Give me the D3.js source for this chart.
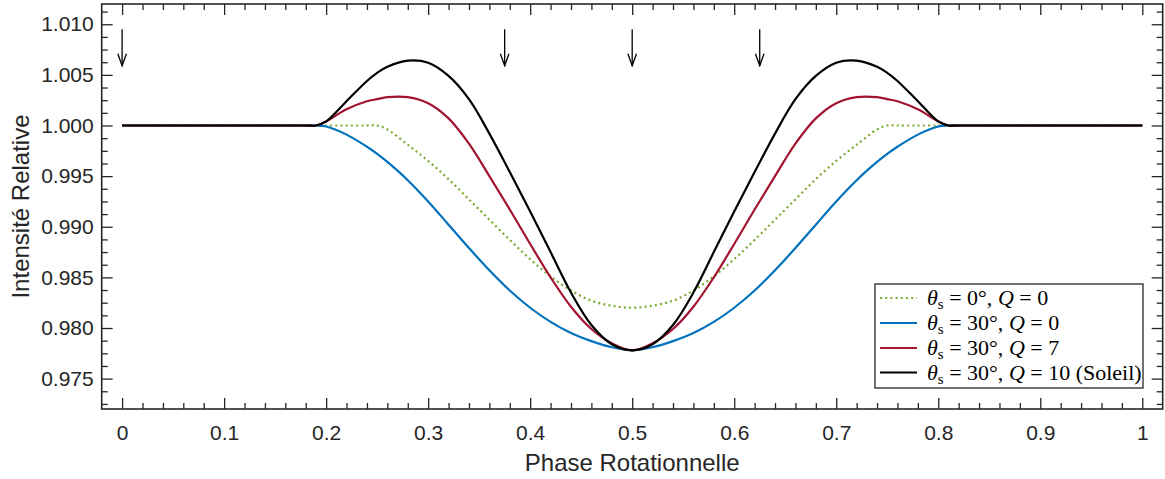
<!DOCTYPE html>
<html lang="fr">
<head>
<meta charset="UTF-8">
<title>Intensité relative vs phase rotationnelle</title>
<style>
  html, body { margin: 0; background: #fff; }
  svg { display: block; }
  .tick text { font-family: 'Liberation Sans', Arial, sans-serif; font-size: 21px; fill: #262626; }
  .tick line { stroke: #262626; stroke-width: 1.3px; }
  .title { font-family: 'Liberation Sans', Arial, sans-serif; font-size: 24px; fill: #262626; }
  .curve { fill: none; stroke-width: 2.2px; }
  .leg text { font-family: 'Liberation Serif', 'Times New Roman', serif; font-size: 22px; fill: #000; }
</style>
</head>
<body>
<svg width="1165" height="479"></svg>
<script src="https://cdn.jsdelivr.net/npm/d3@7"></script>
<script>
// ---- data ----
const phase = [0, 0.18, 0.19, 0.20, 0.22, 0.24, 0.25, 0.26, 0.28, 0.30, 0.32, 0.34, 0.36, 0.38, 0.40, 0.42, 0.44, 0.46, 0.48, 0.50,
               0.52, 0.54, 0.56, 0.58, 0.60, 0.62, 0.64, 0.66, 0.68, 0.70, 0.72, 0.74, 0.75, 0.76, 0.78, 0.80, 0.81, 0.82, 1];

const green = [1, 1, 1, 1, 1, 1, 1, 0.9996, 0.9981, 0.9965, 0.9947, 0.9927, 0.9907, 0.9887, 0.9868, 0.9851, 0.9837, 0.9827, 0.9822, 0.9820,
               0.9822, 0.9827, 0.9837, 0.9851, 0.9868, 0.9887, 0.9907, 0.9927, 0.9947, 0.9965, 0.9981, 0.9996, 1, 1, 1, 1, 1, 1, 1];

const blue = [1, 1, 1, 0.9999, 0.9991, 0.9979, 0.9972, 0.9964, 0.9946, 0.9925, 0.9902, 0.9879, 0.9857, 0.9837, 0.9820, 0.9806, 0.9795, 0.9787, 0.9781, 0.9778,
              0.9781, 0.9787, 0.9795, 0.9806, 0.9820, 0.9837, 0.9857, 0.9879, 0.9902, 0.9925, 0.9946, 0.9964, 0.9972, 0.9979, 0.9991, 0.9999, 1, 1, 1];

const red = [1, 1, 1, 1.0004, 1.0016, 1.0024, 1.0026, 1.0028, 1.0028, 1.0022, 1.0007, 0.9982, 0.9950, 0.9917, 0.9883, 0.9850, 0.9821, 0.9799, 0.9785, 0.9778,
             0.9785, 0.9799, 0.9821, 0.9850, 0.9883, 0.9917, 0.9950, 0.9982, 1.0007, 1.0022, 1.0028, 1.0028, 1.0026, 1.0024, 1.0016, 1.0004, 1, 1, 1];

const black = [1, 1, 1, 1.0004, 1.0024, 1.0044, 1.0052, 1.0058, 1.0064, 1.0062, 1.0049, 1.0026, 0.9992, 0.9954, 0.9915, 0.9875, 0.9835, 0.9803, 0.9784, 0.9778,
               0.9784, 0.9803, 0.9835, 0.9875, 0.9915, 0.9954, 0.9992, 1.0026, 1.0049, 1.0062, 1.0064, 1.0058, 1.0052, 1.0044, 1.0024, 1.0004, 1, 1, 1];

const seriesColors = ["#77AC30", "#0072BD", "#A2142F", "#000000"];
const legendTheta = ["0°", "30°", "30°", "30°"];
const legendQ = ["0", "0", "7", "10"];
const legendNote = ["", "", "", " (Soleil)"];

const arrowPhases = [0, 0.375, 0.5, 0.625];
const arrowTop = 1.0095, arrowTip = 1.0059;

const xTicks = [0, 0.1, 0.2, 0.3, 0.4, 0.5, 0.6, 0.7, 0.8, 0.9, 1];
const xTickLabels = ["0", "0.1", "0.2", "0.3", "0.4", "0.5", "0.6", "0.7", "0.8", "0.9", "1"];
const yTicks = [0.975, 0.980, 0.985, 0.990, 0.995, 1.000, 1.005, 1.010];
const yTickLabels = ["0.975", "0.980", "0.985", "0.990", "0.995", "1.000", "1.005", "1.010"];

// ---- layout ----
const svg = d3.select("svg"),
    margin = {top: 4, right: 2.3, bottom: 70, left: 101.7},
    width = +svg.attr("width") - margin.left - margin.right,
    height = +svg.attr("height") - margin.top - margin.bottom;

const x = d3.scaleLinear().domain([-0.02, 1.02]).range([0, width]);
const y = d3.scaleLinear().domain([0.972, 1.012]).range([height, 0]);

const g = svg.append("g").attr("transform", "translate(" + margin.left + "," + margin.top + ")");

const xMinor = d3.range(0, 1.0001, 0.02).filter(v => Math.abs(v * 10 - Math.round(v * 10)) > 1e-6);
const yMinor = d3.range(0.9725, 1.0115, 0.00125).filter(v => Math.abs(v * 200 - Math.round(v * 200)) > 1e-6);

function tickAxis(axis, vals, size, labels) {
  axis.tickValues(vals).tickSizeInner(size).tickSizeOuter(0);
  if (labels) axis.tickFormat((d, i) => labels[i]); else axis.tickFormat("");
  return axis;
}

// bottom + top
g.append("g").attr("transform", "translate(0," + height + ")")
  .call(tickAxis(d3.axisBottom(x), xTicks, -11, xTickLabels).tickPadding(16));
g.append("g").attr("transform", "translate(0," + height + ")")
  .call(tickAxis(d3.axisBottom(x), xMinor, -6));
g.append("g").call(tickAxis(d3.axisTop(x), xTicks, -11));
g.append("g").call(tickAxis(d3.axisTop(x), xMinor, -6));
// left + right
g.append("g").call(tickAxis(d3.axisLeft(y), yTicks, -11, yTickLabels).tickPadding(8));
g.append("g").call(tickAxis(d3.axisLeft(y), yMinor, -6));
g.append("g").attr("transform", "translate(" + width + ",0)").call(tickAxis(d3.axisRight(y), yTicks, -11));
g.append("g").attr("transform", "translate(" + width + ",0)").call(tickAxis(d3.axisRight(y), yMinor, -6));
g.selectAll(".domain").remove();

g.append("rect")
  .attr("width", width).attr("height", height)
  .attr("fill", "none").attr("stroke", "#262626").attr("stroke-width", 1.6);

// ---- curves ----
const allSeries = [green, blue, red, black];
const line = d3.line()
  .x((d, i) => x(phase[i]))
  .y(d => y(d))
  .curve(d3.curveCatmullRom.alpha(0.5));

allSeries.forEach((s, k) => {
  g.append("path")
    .datum(s)
    .attr("class", "curve")
    .attr("stroke", seriesColors[k])
    .attr("stroke-dasharray", k === 0 ? "2,3.2" : null)
    .attr("d", line);
});

// ---- arrows ----
svg.append("defs").append("marker")
  .attr("id", "arrowhead")
  .attr("markerUnits", "userSpaceOnUse")
  .attr("viewBox", "-13 -6 14 12")
  .attr("refX", 0).attr("refY", 0)
  .attr("markerWidth", 14).attr("markerHeight", 12)
  .attr("orient", "auto")
  .append("path")
  .attr("d", "M-12,-4.3L0,0L-12,4.3")
  .attr("fill", "none").attr("stroke", "#000").attr("stroke-width", 1.3);

g.selectAll(".arrow")
  .data(arrowPhases)
  .enter().append("line")
  .attr("class", "arrow")
  .attr("x1", d => x(d)).attr("x2", d => x(d))
  .attr("y1", y(arrowTop)).attr("y2", y(arrowTip))
  .attr("stroke", "#000").attr("stroke-width", 1.3)
  .attr("marker-end", "url(#arrowhead)");

// ---- axis titles ----
svg.append("text").attr("class", "title")
  .attr("x", margin.left + width / 2).attr("y", 471)
  .attr("text-anchor", "middle")
  .text("Phase Rotationnelle");

svg.append("text").attr("class", "title")
  .attr("transform", "translate(28.5," + (margin.top + height / 2) + ") rotate(-90)")
  .attr("text-anchor", "middle")
  .text("Intensité Relative");

// ---- legend ----
const leg = svg.append("g").attr("class", "leg");
leg.append("rect")
  .attr("x", 875).attr("y", 284).attr("width", 268).attr("height", 104)
  .attr("fill", "#fff").attr("stroke", "#262626").attr("stroke-width", 1.3);

const rowY = [298, 323, 348, 372.5];
legendTheta.forEach((th, k) => {
  leg.append("line")
    .attr("x1", 880).attr("x2", 917).attr("y1", rowY[k]).attr("y2", rowY[k])
    .attr("stroke", seriesColors[k]).attr("stroke-width", 2.2)
    .attr("stroke-dasharray", k === 0 ? "2,3.2" : null);
  const t = leg.append("text").attr("x", 927).attr("y", rowY[k] + 7);
  t.append("tspan").attr("font-style", "italic").text("θ");
  t.append("tspan").attr("font-size", "15px").attr("dy", 4).text("s");
  t.append("tspan").attr("dy", -4).text(" = " + th + ", ");
  t.append("tspan").attr("font-style", "italic").text("Q");
  t.append("tspan").text(" = " + legendQ[k] + legendNote[k]);
});
</script>
</body>
</html>
